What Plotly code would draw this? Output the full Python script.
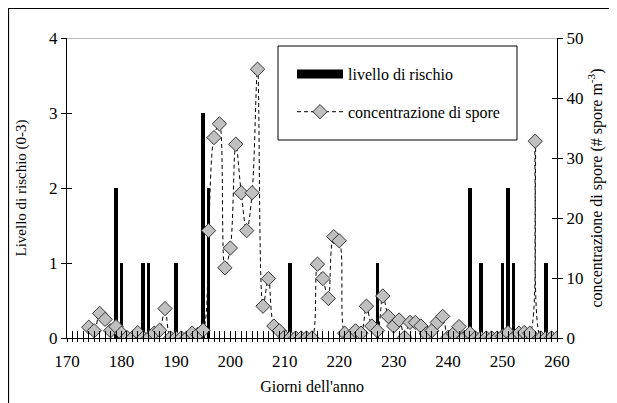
import plotly.graph_objects as go

# ---- data ----
risk_days = [179, 180, 184, 185, 190, 195, 196, 211, 227, 244, 246, 250, 251, 252, 258]
risk_levels = [2, 1, 1, 1, 1, 3, 2, 1, 1, 2, 1, 1, 2, 1, 1]

spore_days = list(range(174, 261))
spore_conc = [
    1.8, 1.2, 4.1, 3.1, 1.2, 1.9, 0.8, 0.1, 0.0, 0.9,   # 174-183
    0.0, 0.0, 0.8, 1.3, 4.9, 0.0, 0.0, 0.0, 0.0, 0.8,   # 184-193
    0.6, 1.3, 17.9, 33.4, 35.7, 11.7, 15.0, 32.3, 24.2, 17.9,  # 194-203
    24.2, 44.8, 5.3, 9.9, 2.0, 1.2, 0.2, 0.0, 0.0, 0.0,  # 204-213
    0.0, 0.0, 12.3, 9.9, 6.6, 16.9, 16.2, 0.8, 0.2, 1.2,  # 214-223
    0.8, 5.3, 2.0, 1.2, 7.0, 3.6, 2.0, 3.0, 0.1, 2.6,   # 224-233
    2.6, 2.0, 0.7, 1.2, 2.6, 3.6, 0.1, 0.7, 1.9, 0.1,   # 234-243
    0.8, 0.0, 0.0, 0.0, 0.0, 0.0, 0.3, 0.9, 0.0, 0.8,   # 244-253
    0.9, 0.8, 32.8, 0.0, 0.0, 0.0, 0.0,                 # 254-260
]

x_ticks = list(range(170, 261, 10))
left_ticks = [0, 1, 2, 3, 4]
right_ticks = [0, 10, 20, 30, 40, 50]

FONT = "Liberation Serif, Times New Roman, serif"

# the page body adds an 8px offset; figure is sized to fit the window
OFF = 8
W, H = 617 - OFF, 403 - OFF
# plot area in screen pixels: x 67..557, y 38..338
L, R, T, B = 67 - OFF, 557 - OFF, 38 - OFF, 338 - OFF
def px(xp):
    return (xp - OFF - L) / (R - L)
def py(yp):
    return (B - (yp - OFF)) / (B - T)

fig = go.Figure()

fig.add_trace(go.Bar(
    x=risk_days, y=risk_levels, width=0.65,
    marker=dict(color="black", line=dict(width=0)),
    name="livello di rischio", showlegend=False, yaxis="y",
))
# legend proxy for the bars (wide black block)
fig.add_trace(go.Scatter(
    x=[None], y=[None], mode="lines", line=dict(color="black", width=9),
    name="livello di rischio", legendgroup="a", yaxis="y",
))
fig.add_trace(go.Scatter(
    x=spore_days, y=spore_conc, mode="lines+markers",
    line=dict(color="black", width=1, dash="4px,3px", shape="spline", smoothing=1),
    marker=dict(symbol="diamond", size=11, color="#c0c0c0",
                line=dict(color="#333333", width=1)),
    name="concentrazione di spore", legendgroup="b", yaxis="y2",
))
# empty traces to anchor tick-only overlay axes
fig.add_trace(go.Scatter(x=[None], y=[None], yaxis="y3", showlegend=False))
fig.add_trace(go.Scatter(x=[None], y=[None], yaxis="y4", showlegend=False))
fig.add_trace(go.Scatter(x=[None], y=[None], xaxis="x2", yaxis="y", showlegend=False))

axis_font = dict(family=FONT, size=17, color="black")
title_font = dict(family=FONT, size=15, color="black")

fig.update_layout(
    width=W, height=H,
    margin=dict(l=L, r=W - R, t=T, b=H - B, pad=0, autoexpand=False),
    paper_bgcolor="white", plot_bgcolor="white",
    font=dict(family=FONT, size=16, color="black"),
    bargap=0,
    xaxis=dict(
        range=[170, 260], tickvals=x_ticks, ticktext=[str(v) for v in x_ticks],
        showgrid=False, zeroline=False, showline=True, linecolor="black", linewidth=1,
        ticks="inside", ticklen=7, tickcolor="black", automargin=False,
        ticklabelstandoff=8,
        minor=dict(dtick=1, ticks="inside", ticklen=7, tickcolor="black", showgrid=False),
        tickfont=axis_font,
        title=dict(text="Giorni dell'anno", font=dict(family=FONT, size=16, color="black"),
                   standoff=10),
    ),
    xaxis2=dict(
        range=[170, 260], overlaying="x", showgrid=False, zeroline=False, showline=False,
        tickvals=x_ticks, ticks="outside", ticklen=3, tickcolor="black",
        minor=dict(dtick=1, ticks="outside", ticklen=3, tickcolor="black"),
        showticklabels=False, side="bottom", anchor="y", automargin=False,
    ),
    yaxis=dict(
        range=[0, 4], tickvals=left_ticks, showgrid=False, zeroline=False,
        showline=True, linecolor="black", linewidth=1, automargin=False,
        ticks="outside", ticklen=5, tickcolor="black", tickfont=axis_font,
        title=dict(text="Livello di rischio (0-3)", font=title_font, standoff=18),
    ),
    yaxis2=dict(
        range=[0, 50], tickvals=right_ticks, overlaying="y", side="right",
        showgrid=False, zeroline=False, showline=True, linecolor="black", linewidth=1,
        ticks="outside", ticklen=5, tickcolor="black", tickfont=axis_font,
        automargin=False,
        title=dict(text="concentrazione di spore (# spore m<sup>-3</sup>)",
                   font=dict(family=FONT, size=16, color="black"), standoff=8),
    ),
    yaxis3=dict(
        range=[0, 4], tickvals=left_ticks, overlaying="y", side="left",
        showgrid=False, zeroline=False, showline=False, ticks="inside", ticklen=5,
        tickcolor="black", showticklabels=False, automargin=False,
    ),
    yaxis4=dict(
        range=[0, 50], tickvals=right_ticks, overlaying="y", side="right",
        showgrid=False, zeroline=False, showline=False, ticks="inside", ticklen=5,
        tickcolor="black", showticklabels=False, automargin=False,
    ),
    legend=dict(
        x=px(292), y=py(57), xanchor="left", yanchor="top",
        borderwidth=0, bgcolor="rgba(0,0,0,0)",
        font=dict(family=FONT, size=16), tracegroupgap=14,
        itemwidth=46,
    ),
    shapes=[
        dict(type="line", xref="x domain", yref="y", x0=0, x1=1, y0=4, y1=4,
             line=dict(color="#a0a0a0", width=1.5), layer="below"),
        dict(type="rect", xref="paper", yref="paper",
             x0=px(8.5), x1=px(640), y0=py(420), y1=py(8.5),
             line=dict(color="black", width=1.2), fillcolor="rgba(0,0,0,0)", layer="below"),
        dict(type="rect", xref="paper", yref="paper",
             x0=px(278), x1=px(517), y0=py(140), y1=py(46),
             line=dict(color="black", width=1), fillcolor="white", layer="above"),
    ],
)

fig.write_html("out.html")
